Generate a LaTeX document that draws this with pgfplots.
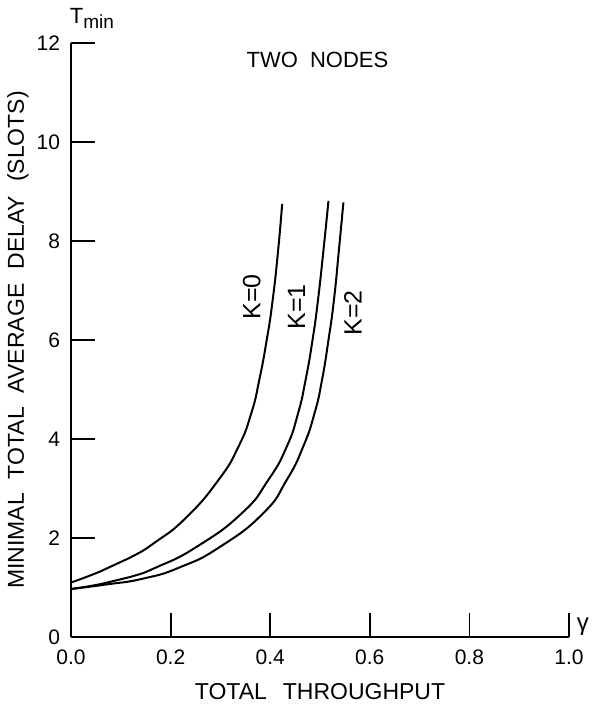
\documentclass[border=0pt]{standalone}
\usepackage{fontspec}
\setmainfont{Liberation Sans}
\usepackage{pgfplots}
\pgfplotsset{compat=1.18}
\begin{document}
\begin{tikzpicture}
\begin{axis}[
  x=249pt, y=24.75pt,
  xmin=0, xmax=1, ymin=0, ymax=12,
  enlargelimits=false,
  axis x line=bottom, axis y line=left,
  axis line style={-, line width=0.9pt},
  tick align=inside,
  major tick length=12pt,
  every tick/.style={black, line width=0.9pt},
  xtick={0,0.2,0.4,0.6,0.8,1.0},
  ytick={0,2,4,6,8,10,12},
  /pgf/number format/assume math mode=true,
  xticklabel style={/pgf/number format/fixed, /pgf/number format/fixed zerofill, /pgf/number format/precision=1},
  x tick label style={font=\fontsize{10.5}{12}\selectfont, yshift=-3pt},
  y tick label style={font=\fontsize{10.5}{12}\selectfont, xshift=-2pt},
  xlabel={TOTAL\hspace{8pt}THROUGHPUT},
  ylabel={MINIMAL\hspace{7pt}TOTAL\hspace{7pt}AVERAGE\hspace{7pt}DELAY\hspace{7pt}(SLOTS)},
  xlabel style={font=\fontsize{11.5}{13}\selectfont, at={([yshift=-27.5pt]rel axis cs:0.5,0)}, anchor=center},
  ylabel style={font=\fontsize{11.5}{13}\selectfont, at={([xshift=-26.5pt]rel axis cs:0,0.5)}, anchor=center},
  clip=false,
]
% K=0
\addplot[black, line width=1pt, smooth, tension=0.9, mark=none] coordinates {
(0.000,1.10) (0.060,1.33) (0.118,1.60) (0.170,1.92) (0.232,2.42) (0.296,3.17)
(0.336,3.84) (0.362,4.52) (0.378,5.19) (0.393,6.00) (0.405,6.81) (0.416,7.82) (0.424,8.75)};
% K=1
\addplot[black, line width=1pt, smooth, tension=0.9, mark=none] coordinates {
(0.000,0.97) (0.060,1.07) (0.118,1.21) (0.172,1.41) (0.252,1.82) (0.343,2.50)
(0.396,3.17) (0.433,3.84) (0.456,4.52) (0.471,5.19) (0.485,6.00) (0.496,6.81) (0.507,7.82) (0.517,8.81)};
% K=2
\addplot[black, line width=1pt, smooth, tension=0.9, mark=none] coordinates {
(0.000,0.97) (0.070,1.06) (0.145,1.18) (0.219,1.41) (0.299,1.82) (0.386,2.50)
(0.433,3.17) (0.466,3.84) (0.489,4.52) (0.504,5.19) (0.517,6.00) (0.528,6.81) (0.538,7.82) (0.547,8.78)};

\node[rotate=90, font=\fontsize{12.5}{14}\selectfont] at (axis cs:0.363,6.87) {K=0};
\node[rotate=90, font=\fontsize{12.5}{14}\selectfont] at (axis cs:0.453,6.67) {K=1};
\node[rotate=90, font=\fontsize{12.5}{14}\selectfont] at (axis cs:0.566,6.55) {K=2};
\node[font=\fontsize{11}{13}\selectfont] at (axis cs:0.495,11.65) {TWO\hspace{6pt}NODES};
\node[font=\fontsize{11}{13}\selectfont] at (axis cs:0.042,12.5) {T\raisebox{-0.45ex}{\fontsize{9.5}{11}\selectfont min}};
\node[font=\fontsize{12}{14}\selectfont] at (axis cs:1.028,0.2) {γ};
\coordinate (O) at (axis cs:0,0);
\end{axis}
\pgfresetboundingbox
\path ([shift={(-35.5pt,-34pt)}]O) rectangle ([shift={(260.5pt,318.5pt)}]O);
\end{tikzpicture}
\end{document}
